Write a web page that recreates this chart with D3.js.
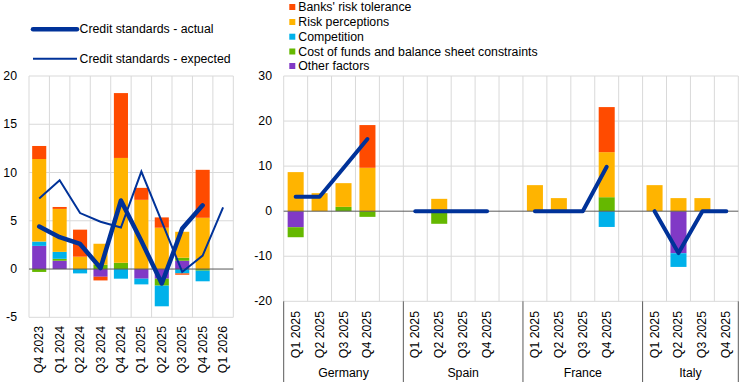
<!DOCTYPE html>
<html>
<head>
<meta charset="utf-8">
<script src="https://d3js.org/d3.v7.min.js"></script>
<style>
body {margin: 0; background: #fff;}
svg text {font-family: "Liberation Sans", Arial, sans-serif; font-size: 12.3px; fill: #000;}
</style>
</head>
<body>
<svg id="chart" width="745" height="385"></svg>
<script>
// ---- left panel: euro area, net percentages ----
var quarters = ["Q4 2023","Q1 2024","Q2 2024","Q3 2024","Q4 2024","Q1 2025","Q2 2025","Q3 2025","Q4 2025","Q1 2026"];
var otherEA       = [2.4, 0.86, 0, -0.8, 0, -1.0, -1.0, 0.86, 0, null];
var costEA        = [-0.3, 0.2, 0, 0.45, 0.65, 0, -0.72, 0.31, -0.17, null];
var competitionEA = [0.45, 0.72, -0.45, 0, -1.0, -0.59, -2.14, -0.45, -1.1, null];
var riskPercEA    = [8.55, 4.45, 1.28, 2.17, 10.86, 7.17, 4.28, 2.69, 5.31, null];
var riskTolEA     = [1.35, 0.2, 2.8, -0.38, 6.72, 1.24, 1.07, -0.14, 4.97, null];
var actualEA      = [4.4, 3.3, 2.6, 0.1, 7.1, 2.9, -1.5, 4.2, 6.6, null];
var expectedEA    = [7.3, 9.2, 5.8, 4.9, 4.3, 10.1, 4.9, -0.3, 1.4, 6.4];
var leftTicks = [-5, 0, 5, 10, 15, 20];

// ---- right panel: countries, Q1-Q4 2025 ----
var countries = ["Germany", "Spain", "France", "Italy"];
var countryQuarters = ["Q1 2025","Q2 2025","Q3 2025","Q4 2025"];
// 16 values each: Germany Q1..Q4, Spain Q1..Q4, France Q1..Q4, Italy Q1..Q4
var otherC       = [-3.56, 0, 0, 0,   0, 0, 0, 0,      0, 0, 0, 0,      0, -9.33, 0, 0];
var costC        = [-2.22, 0, 0.96, -1.26,  0, -2.8, 0, 0,  0, 0, 0, 3.1,  0, 0, 0, 0];
var competitionC = [0, 0, 0, 0,       0, 0, 0, 0,      0, 0, 0, -3.5,   0, -3.04, 0, 0];
var riskPercC    = [8.67, 4.0, 5.26, 9.63,  0, 2.74, 0, 0,  5.78, 2.9, 0, 10.0,  5.78, 2.9, 2.9, 0];
var riskTolC     = [0, 0, 0, 9.48,    0, 0, 0, 0,      0, 0, 0, 10.0,   0, 0, 0, 0];
var actualC      = [3.2, 3.2, 9.6, 16.0,  0, 0, 0, 0,  0, 0, 0, 9.85,  0, -9.3, 0, 0];
var rightTicks = [-20, -10, 0, 10, 20, 30];

var seriesNames = ["Banks' risk tolerance", "Risk perceptions", "Competition",
                   "Cost of funds and balance sheet constraints", "Other factors"];
var seriesColors = ["#ff4b00", "#ffb400", "#00b1ea", "#65b800", "#8139c6"];
// stacking order from the zero line outwards
var stackKeys = ["other", "cost", "competition", "riskPerc", "riskTol"];
var keyColor = {other: "#8139c6", cost: "#65b800", competition: "#00b1ea", riskPerc: "#ffb400", riskTol: "#ff4b00"};
var navy = "#003299";

var svg = d3.select("#chart");

function stackRows(keys, arrs) {
  return keys.map(function(k, i) {
    return {key: k, other: arrs[0][i] || 0, cost: arrs[1][i] || 0, competition: arrs[2][i] || 0,
            riskPerc: arrs[3][i] || 0, riskTol: arrs[4][i] || 0};
  });
}
var stack = d3.stack().keys(stackKeys).offset(d3.stackOffsetDiverging);

function drawGrid(x, y, ticks, top, bottom) {
  var g = svg.append("g");
  g.selectAll("line.h").data(ticks.filter(function(t){return t != 0;})).enter().append("line")
    .attr("x1", x.range()[0]).attr("x2", x.range()[1])
    .attr("y1", function(d){return y(d);}).attr("y2", function(d){return y(d);})
    .attr("stroke", "#d9d9d9").attr("stroke-width", 1);
  var bounds = x.domain().map(function(d){return x(d);}).concat([x.range()[1]]);
  g.selectAll("line.v").data(bounds).enter().append("line")
    .attr("x1", function(d){return d;}).attr("x2", function(d){return d;})
    .attr("y1", top).attr("y2", bottom)
    .attr("stroke", "#d9d9d9").attr("stroke-width", 1);
}

function drawBars(x, y, rows, frac) {
  var st = stack(rows);
  var bw = x.bandwidth() * frac;
  svg.append("g").selectAll("g").data(st).enter().append("g")
    .attr("fill", function(s){return keyColor[s.key];})
    .selectAll("rect").data(function(s){return s;}).enter().append("rect")
    .attr("x", function(d){return x(d.data.key) + (x.bandwidth() - bw) / 2;})
    .attr("width", bw)
    .attr("y", function(d){return y(Math.max(d[0], d[1]));})
    .attr("height", function(d){return Math.abs(y(d[0]) - y(d[1]));});
}

function drawYLabels(y, ticks, xr) {
  svg.append("g").selectAll("text").data(ticks).enter().append("text")
    .attr("x", xr).attr("y", function(d){return y(d);})
    .attr("text-anchor", "end").attr("dominant-baseline", "central")
    .text(function(d){return d;});
}

function drawZero(x, y) {
  svg.append("line").attr("x1", x.range()[0]).attr("x2", x.range()[1])
    .attr("y1", y(0)).attr("y2", y(0)).attr("stroke", "#595959").attr("stroke-width", 1);
}

// ---------- left panel ----------
var xL = d3.scaleBand().domain(quarters).range([29, 233.3]);
var yL = d3.scaleLinear().domain([-5, 20]).range([317.3, 76]);
drawGrid(xL, yL, leftTicks, 76, 317.3);
drawBars(xL, yL, stackRows(quarters, [otherEA, costEA, competitionEA, riskPercEA, riskTolEA]), 0.69);
drawZero(xL, yL);
drawYLabels(yL, leftTicks, 17);

var lineL = d3.line()
  .defined(function(d){return d.v != null;})
  .x(function(d){return xL(d.q) + xL.bandwidth() / 2;})
  .y(function(d){return yL(d.v);});
svg.append("path").datum(quarters.map(function(q, i){return {q: q, v: expectedEA[i]};}))
  .attr("d", lineL).attr("fill", "none").attr("stroke", navy).attr("stroke-width", 2);
svg.append("path").datum(quarters.map(function(q, i){return {q: q, v: actualEA[i]};}))
  .attr("d", lineL).attr("fill", "none").attr("stroke", navy).attr("stroke-width", 4.5)
  .attr("stroke-linejoin", "round").attr("stroke-linecap", "round");

svg.append("g").selectAll("text").data(quarters).enter().append("text")
  .attr("transform", function(d){return "translate(" + (xL(d) + xL.bandwidth() / 2) + ",326) rotate(-90)";})
  .attr("text-anchor", "end").attr("dominant-baseline", "central")
  .text(function(d){return d;});

// left legend
var legL = [{name: "Credit standards - actual", w: 4.5, y: 29.3}, {name: "Credit standards - expected", w: 2, y: 58.7}];
legL.forEach(function(l) {
  svg.append("line").attr("x1", 33).attr("x2", 77).attr("y1", l.y).attr("y2", l.y)
    .attr("stroke", navy).attr("stroke-width", l.w).attr("stroke-linecap", l.w > 3 ? "round" : "butt");
  svg.append("text").attr("x", 79.5).attr("y", l.y).attr("dominant-baseline", "central").text(l.name);
});

// ---------- right panel ----------
var slots = [];
var cells = [];
countries.forEach(function(c, ci) {
  countryQuarters.forEach(function(q, qi) {
    var key = c + " " + q;
    slots.push(key);
    cells.push({key: key, label: q, idx: ci * 4 + qi, country: c});
  });
  if (ci < countries.length - 1) slots.push("gap" + ci);
});
var xR = d3.scaleBand().domain(slots).range([283.7, 738.3]);
var yR = d3.scaleLinear().domain([-20, 30]).range([301.3, 76]);
drawGrid(xR, yR, rightTicks, 76, 301.3);
var cellKeys = cells.map(function(c){return c.key;});
drawBars(xR, yR, stackRows(cellKeys, [otherC, costC, competitionC, riskPercC, riskTolC]), 0.67);
drawZero(xR, yR);
drawYLabels(yR, rightTicks, 272);

var lineR = d3.line()
  .x(function(d){return xR(d.key) + xR.bandwidth() / 2;})
  .y(function(d){return yR(actualC[d.idx]);});
countries.forEach(function(c) {
  svg.append("path").datum(cells.filter(function(d){return d.country == c;}))
    .attr("d", lineR).attr("fill", "none").attr("stroke", navy).attr("stroke-width", 4)
    .attr("stroke-linejoin", "round").attr("stroke-linecap", "round");
});

svg.append("g").selectAll("text").data(cells).enter().append("text")
  .attr("transform", function(d){return "translate(" + (xR(d.key) + xR.bandwidth() / 2) + ",311) rotate(-90)";})
  .attr("text-anchor", "end").attr("dominant-baseline", "central")
  .text(function(d){return d.label;});

// group separators and country names
var groupEdges = countries.map(function(c){return xR(c + " " + countryQuarters[0]);}).concat([xR.range()[1]]);
svg.append("g").selectAll("line").data(groupEdges).enter().append("line")
  .attr("x1", function(d){return d;}).attr("x2", function(d){return d;})
  .attr("y1", 301.3).attr("y2", 382)
  .attr("stroke", "#595959").attr("stroke-width", 1);
svg.append("g").selectAll("text").data(countries).enter().append("text")
  .attr("x", function(d, i){return (groupEdges[i] + groupEdges[i + 1]) / 2;})
  .attr("y", 373).attr("text-anchor", "middle").attr("dominant-baseline", "central")
  .text(function(d){return d;});

// right legend
var legRows = [7, 22, 36.7, 51.5, 66];
seriesNames.forEach(function(n, i) {
  svg.append("rect").attr("x", 289.3).attr("y", legRows[i] - 3).attr("width", 6).attr("height", 6)
    .attr("fill", seriesColors[i]);
  svg.append("text").attr("x", 298.3).attr("y", legRows[i]).attr("dominant-baseline", "central").text(n);
});
</script>
</body>
</html>
